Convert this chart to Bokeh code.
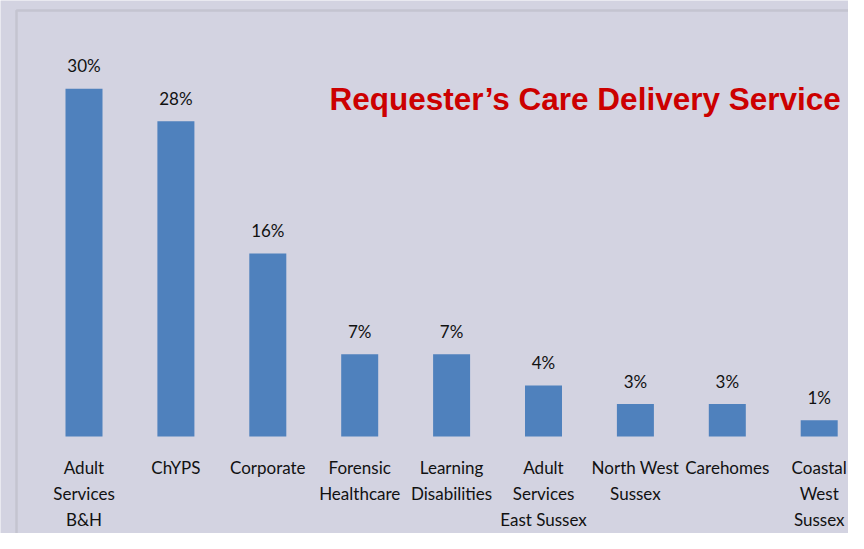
from bokeh.plotting import figure
from bokeh.models import Range1d, ColumnDataSource, BoxAnnotation, Label
from bokeh.core.properties import value
from bokeh.embed import file_html
from bokeh.resources import INLINE

# ---- data ----
categories = [
    "Adult\nServices\nB&H",
    "ChYPS",
    "Corporate",
    "Forensic\nHealthcare",
    "Learning\nDisabilities",
    "Adult\nServices\nEast Sussex",
    "North West\nSussex",
    "Carehomes",
    "Coastal\nWest\nSussex",
]
shares = [30.0, 27.2, 15.8, 7.1, 7.1, 4.4, 2.8, 2.8, 1.4]
share_labels = ["30%", "28%", "16%", "7%", "7%", "4%", "3%", "3%", "1%"]
title_text = "Requester\u2019s Care Delivery Service"

BG = "#d3d3e1"
BAR = "#4f81bd"
FONT = "Lato"

W, H = 848, 533
px_per_cat = 91.9
first_center = 83.5
px_per_pct = 11.59
zero_px = 436  # from top of canvas

x_start = -first_center / px_per_cat
x_end = (W - first_center) / px_per_cat
y_end = zero_px / px_per_pct
y_start = -(H - zero_px) / px_per_pct

p = figure(width=W, height=H, output_backend="svg", toolbar_location=None,
           x_range=Range1d(x_start, x_end), y_range=Range1d(y_start, y_end),
           min_border=0, min_border_left=0, min_border_right=0,
           min_border_top=0, min_border_bottom=0)
p.axis.visible = False
p.grid.visible = False
p.outline_line_color = None
p.background_fill_color = BG
p.border_fill_color = BG

xs = list(range(len(categories)))
src = ColumnDataSource(dict(x=xs, top=shares, lab=share_labels))

p.vbar(x="x", top="top", bottom=0, width=37 / px_per_cat, source=src,
       fill_color=BAR, line_color=None)

p.text(x="x", y="top", text="lab", source=src, text_align="center",
       text_baseline="alphabetic", y_offset=-23,
       text_font=value(FONT), text_font_size="17px", text_color="#111111")

# category labels (split into lines)
lx, ly, lt, lo = [], [], [], []
for i, c in enumerate(categories):
    for k, line in enumerate(c.split("\n")):
        lx.append(i)
        ly.append(0)
        lt.append(line)
        lo.append(31 + 26 * k)
csrc = ColumnDataSource(dict(x=lx, y=ly, t=lt, o=lo))
p.text(x="x", y="y", text="t", y_offset="o", source=csrc, text_align="center",
       text_baseline="alphabetic", text_font=value(FONT),
       text_font_size="17px", text_color="#111111")

# chart-area border (top and left visible)
border_left = (16 - first_center) / px_per_cat
border_top = (zero_px - 10) / px_per_pct
p.add_layout(BoxAnnotation(left=border_left, top=border_top,
                           right=x_end + 5, bottom=y_start - 5,
                           fill_alpha=0, line_color="#a3a3a8", line_width=2.5))

title_x = (329 - first_center) / px_per_cat
title_y = (zero_px - 98) / px_per_pct
p.add_layout(Label(x=title_x, y=title_y, text=title_text,
                   text_font="Liberation Sans", text_font_style="bold",
                   text_font_size="31.5px", text_color="#cc0000",
                   text_baseline="alphabetic", text_align="left"))

html = file_html(p, INLINE)
html = html.replace("<body>", '<body style="background:%s">' % BG, 1)
open("out.html", "w").write(html)
